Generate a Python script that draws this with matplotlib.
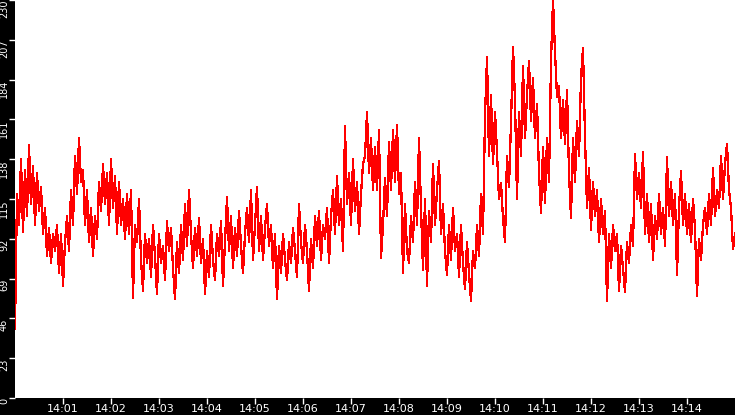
import matplotlib
matplotlib.use("Agg")
import matplotlib.pyplot as plt
import numpy as np

# Sampled values (one every 2.5 s from 14:00:00 to 14:15:00)
values = [
    40, 118, 100, 138, 96, 132, 105, 146, 112, 134, 100, 130, 108, 122, 95, 110, 82, 98, 78, 95,
    85, 100, 72, 95, 65, 90, 105, 85, 120, 100, 140, 118, 150, 125, 132, 100, 120, 90, 110, 82,
    105, 92, 125, 108, 135, 112, 130, 100, 138, 110, 128, 95, 125, 100, 115, 92, 118, 95, 120, 58,
    100,
    90, 115, 80, 62, 95, 78, 92, 70, 100, 82, 60, 95, 78, 88, 68, 102, 85, 98, 75, 57,
    90, 72, 100, 80, 112, 88, 120, 95, 75, 98, 82, 104, 78, 92, 60, 85, 70, 100, 80, 68,
    95, 82, 102, 65, 90, 116, 85, 105, 75, 98, 82, 108, 88, 72, 95, 110, 90, 120, 80, 100,
    122, 85, 105, 80, 98, 112, 88, 100, 75, 95, 57, 88, 72, 95, 80, 68, 90, 78, 98, 85,
    70, 112, 90, 78, 100, 85, 62, 92, 75, 105, 88, 108, 80, 100, 92, 110, 78, 105, 120, 95,
    128, 100, 115, 85, 157, 112, 130, 100, 138, 108, 125, 95, 118, 135, 140, 165, 130, 150, 120, 145,
    120, 155, 81, 100, 127, 105, 148, 120, 155, 125, 158, 118, 130, 72, 112, 85, 78, 105, 90, 125,
    100, 150, 110, 74, 115, 65, 108, 90, 135, 100, 120, 137, 95, 112, 85, 71, 100, 80, 110, 85,
    95, 70, 100, 78, 63, 90, 72, 56, 85, 75, 100, 82, 118, 95, 163, 197, 140, 175, 135, 165,
    142, 115, 124, 104, 90, 140, 122, 159, 203, 172, 115, 165, 140, 192, 150, 175, 195, 160, 185, 150,
    170, 130, 107, 145, 113, 150, 125, 195, 230, 200, 174, 180, 150, 172, 147, 178, 130, 104, 150, 125,
    160, 140, 185, 202, 151, 110, 133, 97, 125, 105, 120, 90, 115, 95, 108, 56, 95, 75, 100, 85,
    95, 62, 88, 75, 61, 90, 78, 100, 88, 141, 115, 130, 110, 142, 95, 118, 90, 112, 80, 105,
    92, 118, 95, 110, 88, 139, 105, 125, 100, 118, 71, 110, 131, 100, 118, 95, 112, 90, 115, 98,
    59, 92, 80, 100, 110, 95, 118, 100, 133, 105, 120, 110, 140, 115, 135, 147, 120, 110, 86, 95,
]
start_seconds = 0.0
step_seconds = 2.5
x_tick_seconds = [60, 120, 180, 240, 300, 360, 420, 480, 540, 600, 660, 720, 780, 840]
x_tick_labels = ["14:01", "14:02", "14:03", "14:04", "14:05", "14:06", "14:07",
                 "14:08", "14:09", "14:10", "14:11", "14:12", "14:13", "14:14"]
y_ticks = [0, 23, 46, 69, 92, 115, 138, 161, 184, 207, 230]

times = start_seconds + step_seconds * np.arange(len(values))

fig = plt.figure(figsize=(7.35, 4.15), dpi=100, facecolor="black")
ax = fig.add_axes([15 / 735, 17 / 415, 720 / 735, 398 / 415])
ax.set_facecolor("white")
ax.plot(times, values, color="#ff0000", lw=0.9, antialiased=False)

ax.set_xlim(0, 900)
ax.set_ylim(0, 230)
for s in ax.spines.values():
    s.set_visible(False)

fam = ["Liberation Sans Narrow", "DejaVu Sans"]
ax.set_xticks(x_tick_seconds)
ax.set_xticklabels(x_tick_labels, family=fam, fontsize=8, color="white")
ax.set_yticks(y_ticks)
ax.set_yticklabels([str(v) for v in y_ticks], family=fam, fontsize=7, color="white",
                   rotation=90, va="top")
ax.tick_params(axis="x", colors="white", length=4, width=1, pad=0.3, direction="out")
ax.tick_params(axis="y", colors="white", length=4, width=1, pad=0.3, direction="out")

fig.savefig("out.png", dpi=100, facecolor="black")
